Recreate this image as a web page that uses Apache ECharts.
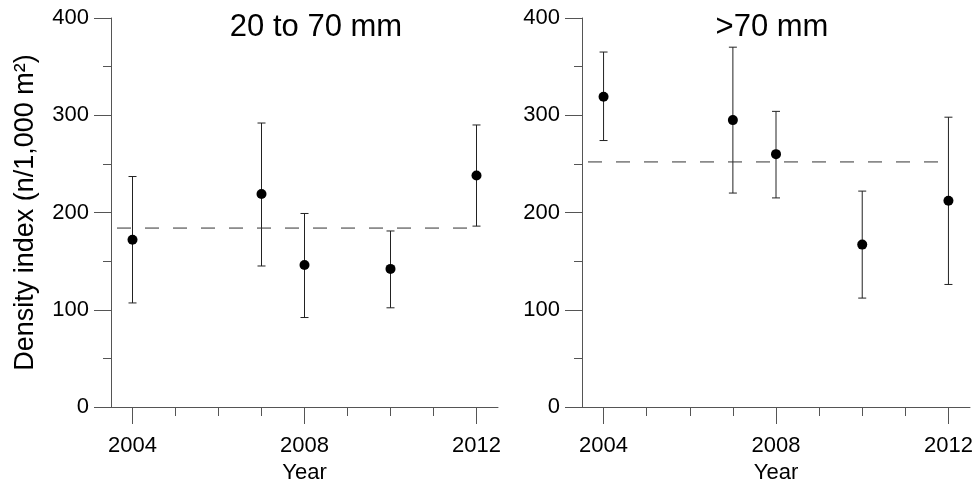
<!DOCTYPE html>
<html>
<head>
<meta charset="utf-8">
<script src="https://cdn.jsdelivr.net/npm/echarts@6/dist/echarts.min.js"></script>
<style>html,body{margin:0;padding:0;background:#fff;}#c{width:977px;height:480px;}</style>
</head>
<body>
<div id="c"></div>
<script>
// ---- data ----
const years = ['2004','2005','2006','2007','2008','2009','2010','2011','2012'];
const obsYears = ['2004','2007','2008','2010','2012'];
const yTicks = [0, 100, 200, 300, 400];
const panelTitles = ['20 to 70 mm', '>70 mm'];

const smallMean = [172, 219, 146, 142, 238];
const smallLow  = [107, 145, 92, 102, 186];
const smallHigh = [237, 292, 199, 181, 290];
const smallAvg  = 184;

const largeMean = [319, 295, 260, 167, 212];
const largeLow  = [274, 220, 215, 112, 126];
const largeHigh = [365, 370, 304, 222, 298];
const largeAvg  = 252;

const avgSpan = [2003.5, 2012]; // x-range of the dashed mean line (years)
// -----------------

const FONT = '"Liberation Sans", Arial, Helvetica, sans-serif';
const AX = '#555';
const chart = echarts.init(document.getElementById('c'), null, {renderer: 'canvas'});

const grids = [
  {left: 111, top: 18, width: 387, height: 389, outerBoundsMode: 'none', containLabel: false},
  {left: 582, top: 18, width: 388, height: 389, outerBoundsMode: 'none', containLabel: false}
];

function isMajor(i) { return Number(years[i]) % 4 === 0; }

const xAxes = [], yAxes = [], series = [];
const panels = [
  {mean: smallMean, low: smallLow, high: smallHigh, avg: smallAvg},
  {mean: largeMean, low: largeLow, high: largeHigh, avg: largeAvg}
];

panels.forEach((p, g) => {
  const base = xAxes.length;
  xAxes.push({
    type: 'category', gridIndex: g, data: years, position: 'bottom', boundaryGap: true,
    axisLine: {show: true, lineStyle: {color: AX, width: 1}},
    axisTick: {show: true, alignWithLabel: true, interval: 0, length: 9, lineStyle: {color: AX}},
    axisLabel: {show: false}, splitLine: {show: false}
  });
  xAxes.push({
    type: 'category', gridIndex: g, data: years, position: 'bottom', boundaryGap: true,
    axisLine: {show: false},
    axisTick: {show: true, alignWithLabel: true, interval: (i) => isMajor(i), length: 17, lineStyle: {color: AX}},
    axisLabel: {show: true, interval: (i) => isMajor(i), margin: 28, fontSize: 22, color: '#000', fontFamily: FONT},
    name: 'Year', nameLocation: 'middle', nameGap: 54,
    nameTextStyle: {fontSize: 22, color: '#000', fontFamily: FONT},
    splitLine: {show: false}
  });
  xAxes.push({
    type: 'value', gridIndex: g, show: false, min: 2003.5, max: 2012.5
  });
  yAxes.push({
    type: 'value', gridIndex: g, min: yTicks[0], max: yTicks[yTicks.length - 1], interval: 100,
    axisLine: {show: true, lineStyle: {color: AX, width: 1}},
    axisTick: {show: true, length: 17, lineStyle: {color: AX}},
    minorTick: {show: true, splitNumber: 2, length: 8, lineStyle: {color: AX}},
    axisLabel: {margin: 22, fontSize: 22, color: '#000', fontFamily: FONT},
    splitLine: {show: false},
    name: g === 0 ? 'Density index (n/1,000 m\u00B2)' : '',
    nameLocation: 'middle', nameGap: 72,
    nameTextStyle: {fontSize: 27, color: '#000', fontFamily: FONT}
  });

  series.push({
    type: 'line', xAxisIndex: base + 2, yAxisIndex: g,
    data: [[avgSpan[0], p.avg], [avgSpan[1], p.avg]],
    symbol: 'none', silent: true,
    lineStyle: {color: '#333', width: 1, type: [14, 14], dashOffset: 22}
  });
  series.push({
    type: 'custom', xAxisIndex: base, yAxisIndex: g,
    data: obsYears.map((y, i) => [y, p.low[i], p.high[i]]),
    encode: {x: 0, y: [1, 2]},
    renderItem: function (params, api) {
      const x = api.value(0);
      const lo = api.coord([x, api.value(1)]);
      const hi = api.coord([x, api.value(2)]);
      const w = 4;
      const st = {stroke: '#222', lineWidth: 1};
      return {type: 'group', children: [
        {type: 'line', shape: {x1: lo[0], y1: lo[1], x2: hi[0], y2: hi[1]}, style: st},
        {type: 'line', shape: {x1: lo[0] - w, y1: lo[1], x2: lo[0] + w, y2: lo[1]}, style: st},
        {type: 'line', shape: {x1: hi[0] - w, y1: hi[1], x2: hi[0] + w, y2: hi[1]}, style: st}
      ]};
    },
    z: 3
  });
  series.push({
    type: 'scatter', xAxisIndex: base, yAxisIndex: g,
    data: obsYears.map((y, i) => [y, p.mean[i]]),
    symbol: 'circle', symbolSize: 10,
    itemStyle: {color: '#000', opacity: 1}, z: 4
  });
});

chart.setOption({
  animation: false,
  backgroundColor: '#fff',
  textStyle: {fontFamily: FONT},
  title: [
    {text: panelTitles[0], left: 311, top: 7, textAlign: 'center',
     textStyle: {fontSize: 31, fontWeight: 'normal', color: '#000', fontFamily: FONT}},
    {text: panelTitles[1], left: 767, top: 7, textAlign: 'center',
     textStyle: {fontSize: 31, fontWeight: 'normal', color: '#000', fontFamily: FONT}}
  ],
  grid: grids,
  xAxis: xAxes,
  yAxis: yAxes,
  series: series
});
</script>
</body>
</html>
